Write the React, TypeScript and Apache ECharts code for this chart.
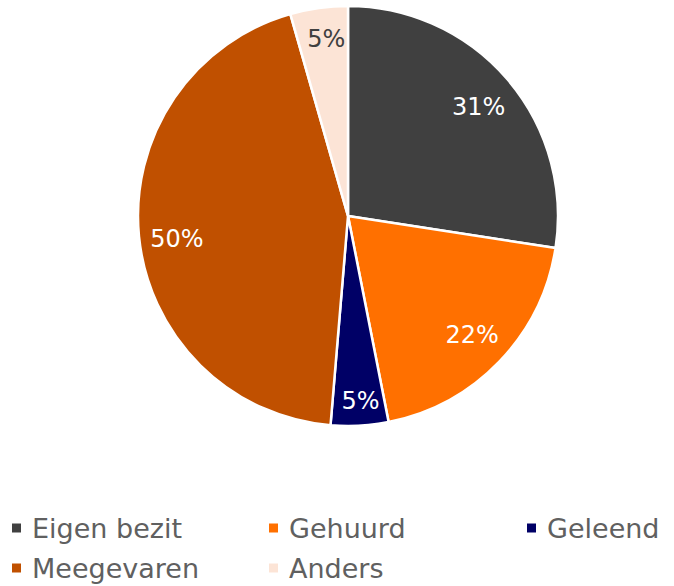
import React, { useEffect, useRef } from "react";
import * as echarts from "echarts";

const categories = ["Eigen bezit", "Gehuurd", "Geleend", "Meegevaren", "Anders"];
const values = [31, 22, 5, 50, 5];
const colors = ["#404040", "#FF7000", "#000066", "#C05000", "#FCE4D6"];
const labelColors = ["#FFFFFF", "#FFFFFF", "#FFFFFF", "#FFFFFF", "#404040"];

const FONT = "'DejaVu Sans', sans-serif";

export default function App() {
  const ref = useRef<HTMLDivElement>(null);
  useEffect(() => {
    document.body.style.margin = "0";
    const chart = echarts.init(ref.current!, null, { renderer: "svg" });
    const data = categories.map((name, i) => ({
      name,
      value: values[i],
      itemStyle: { color: colors[i] },
    }));
    const labelData = categories.map((name, i) => ({
      name,
      value: values[i],
      label: { color: labelColors[i] },
    }));
    const tweaks: Record<number, { dx?: number; dy?: number }> = {
      0: { dy: 3 },
      2: { dx: 3, dy: 13 },
      3: { dy: 6 },
      4: { dx: 2, dy: -7 },
    };
    const legendPos: Record<string, [number, number]> = {
      "Eigen bezit": [10, 513],
      Gehuurd: [267, 513],
      Geleend: [525, 513],
      Meegevaren: [10, 553],
      Anders: [267, 553],
    };
    chart.setOption({
      animation: false,
      legend: categories.map((name) => ({
        data: [name],
        left: legendPos[name][0],
        top: legendPos[name][1],
        padding: 0,
        icon: "rect",
        itemWidth: 11,
        itemHeight: 11,
        selectedMode: false,
        textStyle: {
          fontFamily: FONT,
          fontSize: 27,
          lineHeight: 30,
          fontWeight: "normal",
          color: "#606060",
          padding: [0, 0, 0, 5],
        },
      })),
      series: [
        {
          type: "pie",
          center: [348, 216],
          radius: [0, 210],
          startAngle: 90,
          clockwise: true,
          data,
          label: { show: false },
          labelLine: { show: false },
          itemStyle: { borderColor: "#FFFFFF", borderWidth: 2.5 },
          silent: true,
        },
        {
          type: "pie",
          center: [348, 216],
          radius: [0, 338],
          startAngle: 90,
          clockwise: true,
          data: labelData,
          silent: true,
          itemStyle: { color: "rgba(0,0,0,0)" },
          labelLine: { show: false },
          label: {
            show: true,
            position: "inside",
            formatter: "{c}%",
            fontFamily: FONT,
            fontSize: 24,
            fontWeight: "normal",
          },
          labelLayout: (p: any) => tweaks[p.dataIndex] || {},
          z: 5,
        },
      ],
    });
    return () => chart.dispose();
  }, []);
  return <div ref={ref} style={{ width: 674, height: 586 }} />;
}
